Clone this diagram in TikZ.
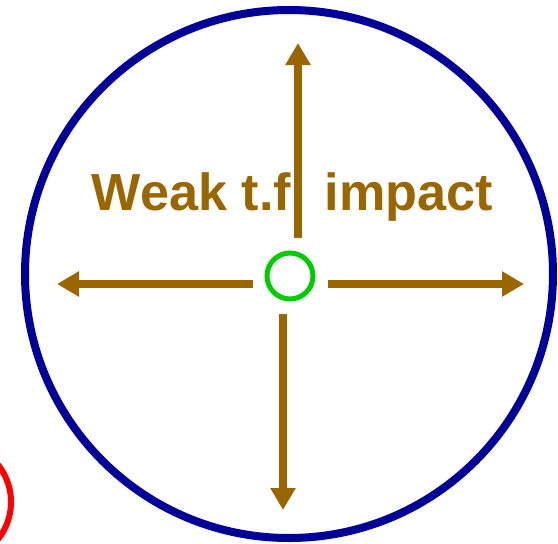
\documentclass[tikz,border=0pt]{standalone}
\usepackage{fontspec}
\setmainfont{Liberation Sans}
\usepackage{xcolor}
\usepackage{tikz}
\usetikzlibrary{positioning, arrows.meta}
\definecolor{sBrown}{HTML}{996600}
\definecolor{sBlue}{HTML}{000099}
\definecolor{sGreen}{HTML}{00CC00}
\definecolor{sRed}{HTML}{FF0000}

\begin{document}
\begin{tikzpicture}[x=1pt, y=-1pt,
    spread/.style={draw=sBrown, line width=8pt, -{Triangle[length=22pt, width=24pt]}}]
  \useasboundingbox (0,0) rectangle (558,544);
  \node[draw=sBlue, line width=8pt, circle, minimum size=528pt, inner sep=0pt] (region) at (289,274) {};
  \node[draw=sRed, line width=6pt, circle, minimum size=120pt, inner sep=0pt] (other) at (-49,502) {};
  \node[font=\bfseries\fontsize{52.2}{60}\selectfont, text=sBrown, anchor=base] (label) at (292.5,210) {Weak t.f. impact};
  \node[draw=sGreen, line width=5pt, circle, minimum size=46pt, inner sep=0pt] (source) at (290,276) {};
  % arrow ends
  \coordinate (upS) at (298,238);   \coordinate (upE) at (298,43);
  \coordinate (leftS) at (253,284); \coordinate (leftE) at (57,284);
  \coordinate (rightS) at (328,284); \coordinate (rightE) at (524,284);
  \coordinate (downS) at (283,314); \coordinate (downE) at (283,510);
  \draw[spread] (upS) -- (upE);
  \draw[spread] (leftS) -- (leftE);
  \draw[spread] (rightS) -- (rightE);
  \draw[spread] (downS) -- (downE);
\end{tikzpicture}
\end{document}
